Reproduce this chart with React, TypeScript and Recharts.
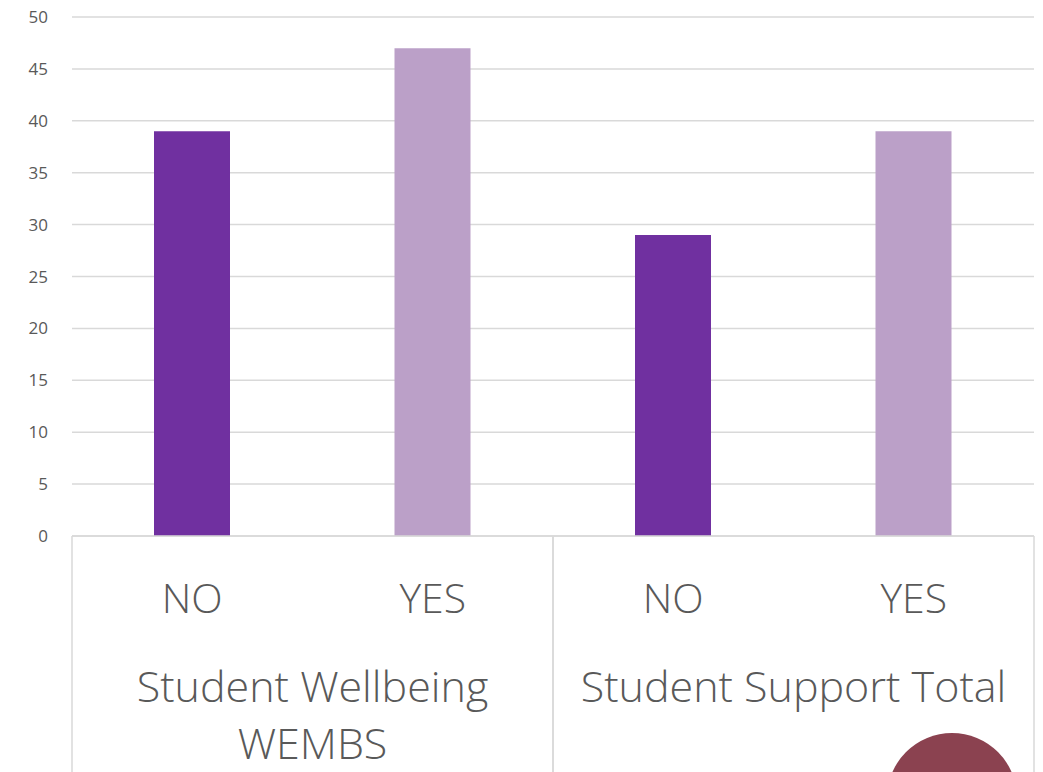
import React from "react";
import { Bar, BarChart, CartesianGrid, Cell, XAxis, YAxis } from "recharts";

// categories, one per bar
const answers = ["NO", "YES", "NO", "YES"];
const groups = [
  "Student Wellbeing WEMBS",
  "Student Wellbeing WEMBS",
  "Student Support Total",
  "Student Support Total",
];
const scores = [39, 47, 29, 39];
const yTicks = [0, 5, 10, 15, 20, 25, 30, 35, 40, 45, 50];

const colors: Record<string, string> = { NO: "#7030A0", YES: "#BBA0C8" };
const textColor = "#595959";
const lineColor = "#d9d9d9";
const font = "'Open Sans', 'Segoe UI', sans-serif";
const groupFontSize = 43;

const data = answers.map((a, i) => ({ answer: a, group: groups[i], score: scores[i] }));

// simple word wrap measured with a canvas
const wrap = (label: string, maxWidth: number) => {
  const ctx = document.createElement("canvas").getContext("2d");
  if (!ctx) return [label];
  ctx.font = `300 ${groupFontSize}px ${font}`;
  const lines: string[] = [];
  let cur = "";
  for (const w of label.split(" ")) {
    const next = cur ? cur + " " + w : w;
    if (cur && ctx.measureText(next).width > maxWidth) {
      lines.push(cur);
      cur = w;
    } else {
      cur = next;
    }
  }
  if (cur) lines.push(cur);
  return lines;
};

const CategoryTick = (props: any) => {
  const { x, y, payload, index } = props;
  const half = payload?.offset ?? 120;
  const top = y - 8; // tick y sits below the axis line
  const first = index === 0 || groups[index] !== groups[index - 1];
  const last = index === groups.length - 1 || groups[index] !== groups[index + 1];
  return (
    <g>
      <text
        x={x}
        y={top + 77}
        textAnchor="middle"
        fill={textColor}
        fontSize={41}
        fontWeight={300}
        fontFamily={font}
      >
        {payload.value}
      </text>
      {first && (
        <>
          <line x1={x - half} x2={x - half} y1={top} y2={top + 250} stroke={lineColor} strokeWidth={1.5} />
          <text
            x={x + half}
            y={top + 166}
            textAnchor="middle"
            fill={textColor}
            fontSize={groupFontSize}
            fontWeight={300}
            fontFamily={font}
          >
            {wrap(groups[index], 450).map((line, i) => (
              <tspan key={i} x={x + half} dy={i === 0 ? 0 : 57}>
                {line}
              </tspan>
            ))}
          </text>
        </>
      )}
      {last && (
        <line x1={x + half} x2={x + half} y1={top} y2={top + 250} stroke={lineColor} strokeWidth={1.5} />
      )}
    </g>
  );
};

export default function App() {
  return (
    <div style={{ position: "fixed", left: 0, top: 0, width: 1043, height: 772, background: "#fff", overflow: "hidden" }}>
      <BarChart
        width={1043}
        height={772}
        data={data}
        margin={{ top: 17, right: 9, bottom: 0, left: 0 }}
        barCategoryGap={0}
      >
        <CartesianGrid vertical={false} stroke={lineColor} strokeWidth={1.5} />
        <XAxis
          dataKey="answer"
          height={236}
          interval={0}
          tickLine={false}
          axisLine={{ stroke: lineColor, strokeWidth: 1.5 }}
          tick={<CategoryTick />}
        />
        <YAxis
          width={72}
          domain={[0, 50]}
          ticks={yTicks}
          axisLine={false}
          tickLine={false}
          tickMargin={18}
          tick={{ fill: textColor, fontSize: 17, fontFamily: font }}
        />
        <Bar dataKey="score" barSize={76} isAnimationActive={false}>
          {data.map((d, i) => (
            <Cell key={i} fill={colors[d.answer]} />
          ))}
        </Bar>
      </BarChart>
      <div
        style={{
          position: "absolute",
          left: 952 - 65,
          top: 733,
          width: 130,
          height: 130,
          borderRadius: "50%",
          background: "#8B4250",
        }}
      />
    </div>
  );
}
